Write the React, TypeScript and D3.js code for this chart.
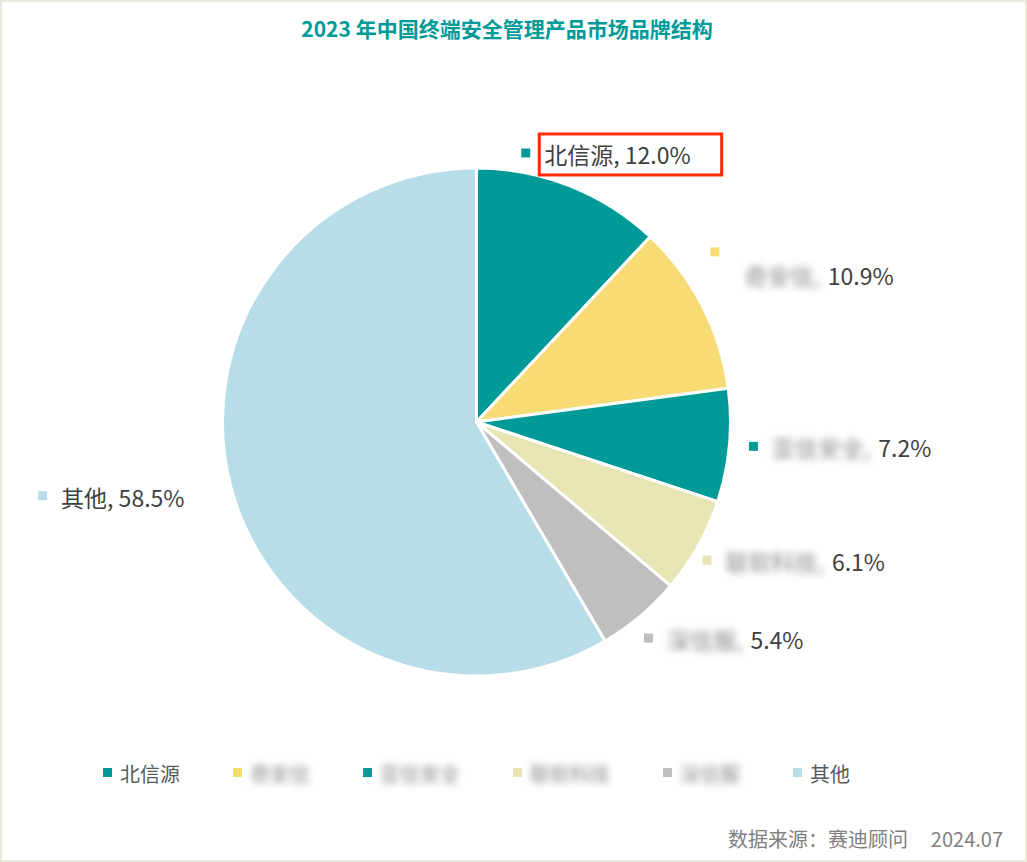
import React, { useEffect, useRef } from 'react';
import * as d3 from 'd3';

const categories = ['北信源', '奇安信', '亚信安全', '联软科技', '深信服', '其他'];
const shares = [12.0, 10.9, 7.2, 6.1, 5.4, 58.5];
const hiddenName = [false, true, true, true, true, false];
const colors = ['#009A98', '#F9DB75', '#009A98', '#E8E5B5', '#BFBFBF', '#B7DDE8'];
const titleText = '2023 年中国终端安全管理产品市场品牌结构';
const sourceText = '数据来源：赛迪顾问';
const dateText = '2024.07';

// layout tweaks for data labels (dx, dy) on top of the outside-end rule
const LABEL_NUDGE: [number, number][] = [[-1, -3], [4, -22], [4, -1], [2, 0], [22, -1], [-34, 0]];
const WRAP = [false, true, false, false, false, false];

const W = 1027, H = 862;
const FONT = '"Noto Sans CJK SC", "Noto Sans", sans-serif';

export default function App() {
  const ref = useRef<SVGSVGElement>(null);
  useEffect(() => {
    document.body.style.margin = '0';
    const svg = d3.select(ref.current);
    svg.selectAll('*').remove();

    const defs = svg.append('defs');
    defs.append('filter').attr('id', 'blur').attr('x', '-20%').attr('y', '-50%').attr('width', '140%').attr('height', '200%')
      .append('feGaussianBlur').attr('stdDeviation', 3.5);

    svg.append('rect').attr('x', 0).attr('y', 0).attr('width', W).attr('height', H).attr('fill', '#fff');
    svg.append('rect').attr('x', 1).attr('y', 1).attr('width', W - 2).attr('height', H - 2)
      .attr('fill', 'none').attr('stroke', '#ECE9DD').attr('stroke-width', 2);

    svg.append('text').attr('x', 507).attr('y', 28).attr('text-anchor', 'middle').attr('dominant-baseline', 'central')
      .attr('font-family', FONT).attr('font-weight', 'bold').attr('font-size', 21).attr('fill', '#009A98').text(titleText);

    const cx = 476.5, cy = 422, r = 254;
    const pie = d3.pie<number>().sort(null).value(d => d)(shares);
    const arc = d3.arc<d3.PieArcDatum<number>>().innerRadius(0).outerRadius(r);
    const g = svg.append('g').attr('transform', `translate(${cx},${cy})`);
    g.selectAll('path').data(pie).enter().append('path')
      .attr('d', arc as any).attr('fill', (_, i) => colors[i])
      .attr('stroke', '#fff').attr('stroke-width', 3).attr('stroke-linejoin', 'round');

    // data labels
    const fs = 23;
    pie.forEach((p, i) => {
      const th = (p.startAngle + p.endAngle) / 2;
      const lg = svg.append('g');
      const tg = lg.append('g');
      let x = 0;
      if (hiddenName[i]) {
        const nt = tg.append('text').attr('x', 0).attr('y', 0).attr('dominant-baseline', 'central')
          .attr('font-family', FONT).attr('font-size', fs).attr('fill', '#888').attr('filter', 'url(#blur)')
          .text(categories[i] + ',');
        x = (nt.node() as SVGTextElement).getComputedTextLength() + 8;
        tg.append('text').attr('x', x).attr('y', 0).attr('dominant-baseline', 'central')
          .attr('font-family', FONT).attr('font-size', fs).attr('fill', '#404040').text(d3.format('.1f')(shares[i]) + '%');
      } else {
        tg.append('text').attr('x', 0).attr('y', 0).attr('dominant-baseline', 'central')
          .attr('font-family', FONT).attr('font-size', fs).attr('fill', '#404040')
          .text(`${categories[i]}, ${d3.format('.1f')(shares[i])}%`);
      }
      const tw = (tg.node() as SVGGElement).getBBox().width;
      const wrap = WRAP[i];
      const bw = wrap ? 34 + tw : 23 + tw;
      const bh = wrap ? 48 : 30;
      const ar = r + 16;
      const ax = cx + ar * Math.sin(th), ay = cy - ar * Math.cos(th);
      const bcx = ax + (bw / 2) * Math.sin(th) + LABEL_NUDGE[i][0];
      const bcy = ay - (bh / 2) * Math.cos(th) + LABEL_NUDGE[i][1];
      const left = bcx - bw / 2, top = bcy - bh / 2;
      if (wrap) {
        lg.append('rect').attr('x', left).attr('y', top + 6).attr('width', 9).attr('height', 9).attr('fill', colors[i]);
        tg.attr('transform', `translate(${left + 34},${top + 34})`);
      } else {
        lg.append('rect').attr('x', left).attr('y', bcy - 5.5).attr('width', 9).attr('height', 9).attr('fill', colors[i]);
        tg.attr('transform', `translate(${left + 23},${bcy})`);
      }
      if (i === 0) {
        svg.append('rect').attr('x', left + 18).attr('y', bcy - 20).attr('width', tw + 36).attr('height', 41)
          .attr('fill', 'none').attr('stroke', '#FF2A00').attr('stroke-width', 3);
      }
    });

    // legend
    const lfs = 20;
    const pitch = (n: number) => 70 + lfs * n;
    const widths = categories.map(c => pitch(c.length));
    const lastW = 9 + 8 + lfs * categories[categories.length - 1].length;
    const total = d3.sum(widths.slice(0, -1)) + lastW;
    let lx = cx - total / 2;
    const ly = 773;
    categories.forEach((c, i) => {
      svg.append('rect').attr('x', lx).attr('y', ly - 5).attr('width', 9).attr('height', 9).attr('fill', colors[i]);
      const t = svg.append('text').attr('x', lx + 17).attr('y', ly).attr('dominant-baseline', 'central')
        .attr('font-family', FONT).attr('font-size', lfs).attr('fill', hiddenName[i] ? '#8a8a8a' : '#595959').text(c);
      if (hiddenName[i]) t.attr('filter', 'url(#blur)');
      lx += widths[i];
    });

    svg.append('text').attr('x', 1003).attr('y', 838).attr('text-anchor', 'end').attr('dominant-baseline', 'central')
      .attr('font-family', FONT).attr('font-size', 20).attr('fill', '#808080').text(dateText);
    svg.append('text').attr('x', 908).attr('y', 838).attr('text-anchor', 'end').attr('dominant-baseline', 'central')
      .attr('font-family', FONT).attr('font-size', 20).attr('fill', '#808080').text(sourceText);
  }, []);
  return <svg ref={ref} width={W} height={H} style={{ display: 'block' }} />;
}
